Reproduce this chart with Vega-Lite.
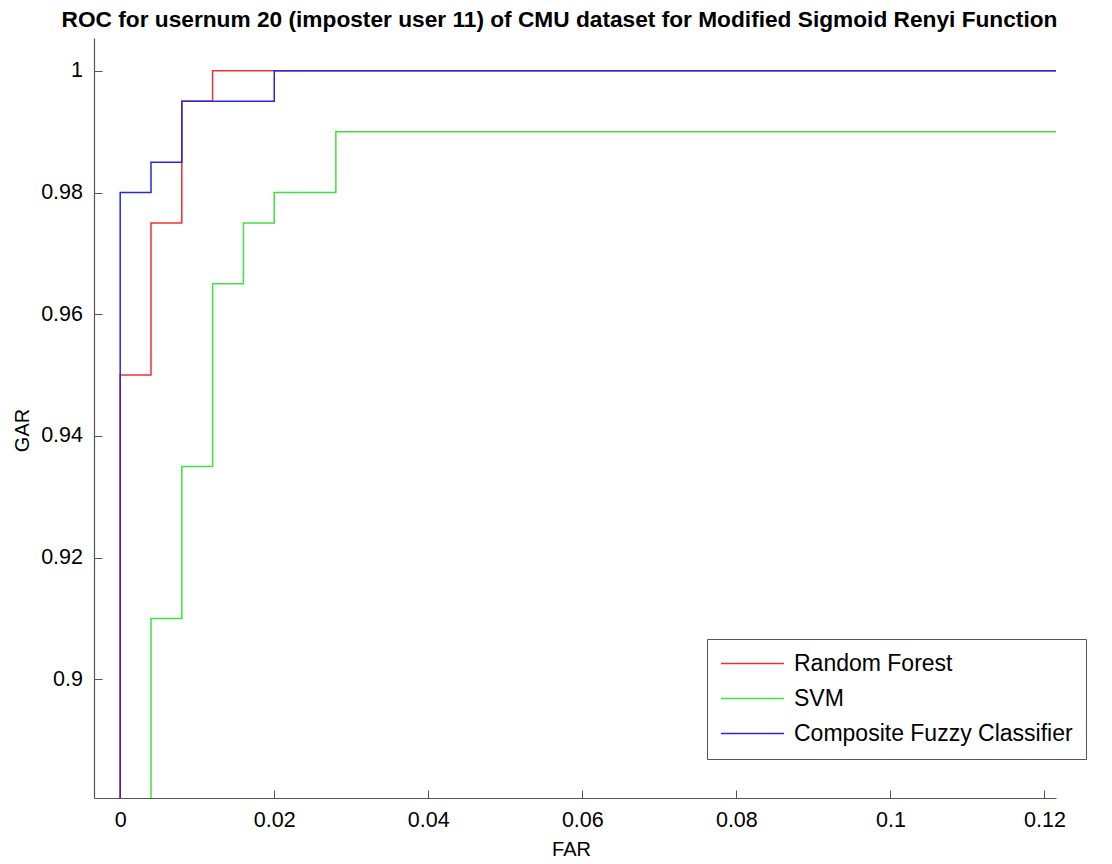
{
  "$schema": "https://vega.github.io/schema/vega-lite/v6.json",
  "autosize": "none",
  "padding": {"left": 94, "top": 38, "right": 56, "bottom": 66},
  "width": 962,
  "height": 760,
  "background": "white",
  "title": {
    "text": "ROC for usernum 20 (imposter user 11) of CMU dataset for Modified Sigmoid Renyi Function",
    "font": "Liberation Sans",
    "fontSize": 22.7,
    "fontWeight": "bold",
    "color": "black",
    "anchor": "middle",
    "offset": 6,
    "dx": -15.5
  },
  "data": {
    "values": [
      {"model": "Random Forest", "i": 0, "FAR": 0, "GAR": 0.8},
      {"model": "Random Forest", "i": 1, "FAR": 0, "GAR": 0.95},
      {"model": "Random Forest", "i": 2, "FAR": 0.004, "GAR": 0.95},
      {"model": "Random Forest", "i": 3, "FAR": 0.004, "GAR": 0.975},
      {"model": "Random Forest", "i": 4, "FAR": 0.008, "GAR": 0.975},
      {"model": "Random Forest", "i": 5, "FAR": 0.008, "GAR": 0.995},
      {"model": "Random Forest", "i": 6, "FAR": 0.012, "GAR": 0.995},
      {"model": "Random Forest", "i": 7, "FAR": 0.012, "GAR": 1.0},
      {"model": "Random Forest", "i": 8, "FAR": 0.1215, "GAR": 1.0},
      {"model": "SVM", "i": 0, "FAR": 0.004, "GAR": 0.8},
      {"model": "SVM", "i": 1, "FAR": 0.004, "GAR": 0.91},
      {"model": "SVM", "i": 2, "FAR": 0.008, "GAR": 0.91},
      {"model": "SVM", "i": 3, "FAR": 0.008, "GAR": 0.935},
      {"model": "SVM", "i": 4, "FAR": 0.012, "GAR": 0.935},
      {"model": "SVM", "i": 5, "FAR": 0.012, "GAR": 0.965},
      {"model": "SVM", "i": 6, "FAR": 0.016, "GAR": 0.965},
      {"model": "SVM", "i": 7, "FAR": 0.016, "GAR": 0.975},
      {"model": "SVM", "i": 8, "FAR": 0.02, "GAR": 0.975},
      {"model": "SVM", "i": 9, "FAR": 0.02, "GAR": 0.98},
      {"model": "SVM", "i": 10, "FAR": 0.028, "GAR": 0.98},
      {"model": "SVM", "i": 11, "FAR": 0.028, "GAR": 0.99},
      {"model": "SVM", "i": 12, "FAR": 0.1215, "GAR": 0.99},
      {"model": "Composite Fuzzy Classifier", "i": 0, "FAR": 0, "GAR": 0.8},
      {"model": "Composite Fuzzy Classifier", "i": 1, "FAR": 0, "GAR": 0.98},
      {"model": "Composite Fuzzy Classifier", "i": 2, "FAR": 0.004, "GAR": 0.98},
      {"model": "Composite Fuzzy Classifier", "i": 3, "FAR": 0.004, "GAR": 0.985},
      {"model": "Composite Fuzzy Classifier", "i": 4, "FAR": 0.008, "GAR": 0.985},
      {"model": "Composite Fuzzy Classifier", "i": 5, "FAR": 0.008, "GAR": 0.995},
      {"model": "Composite Fuzzy Classifier", "i": 6, "FAR": 0.02, "GAR": 0.995},
      {"model": "Composite Fuzzy Classifier", "i": 7, "FAR": 0.02, "GAR": 1.0},
      {"model": "Composite Fuzzy Classifier", "i": 8, "FAR": 0.1215, "GAR": 1.0}
    ]
  },
  "encoding": {
    "x": {
      "field": "FAR", "type": "quantitative",
      "scale": {"domain": [-0.0034, 0.1215], "nice": false, "zero": false},
      "axis": {
        "title": "FAR",
        "values": [0, 0.02, 0.04, 0.06, 0.08, 0.1, 0.12],
        "format": ".2~f",
        "titleX": 477, "titleY": 51, "titleBaseline": "middle", "titleAnchor": null
      }
    },
    "y": {
      "field": "GAR", "type": "quantitative",
      "scale": {"domain": [0.8805, 1.0054], "nice": false, "zero": false},
      "axis": {
        "title": "GAR",
        "values": [0.9, 0.92, 0.94, 0.96, 0.98, 1.0],
        "format": ".2~f",
        "titleX": -72, "titleY": 392, "titleBaseline": "middle", "titleAnchor": null
      }
    },
    "order": {"field": "i", "type": "quantitative"},
    "color": {
      "field": "model", "type": "nominal",
      "scale": {
        "domain": ["Random Forest", "SVM", "Composite Fuzzy Classifier"],
        "range": ["#f03030", "#40e040", "#2828d8"]
      },
      "legend": {
        "title": null,
        "orient": "none",
        "legendX": 613,
        "legendY": 601,
        "symbolType": "M-3,0H3",
        "symbolSize": 441,
        "symbolStrokeWidth": 1.5,
        "labelFont": "Liberation Sans",
        "labelFontSize": 23,
        "labelColor": "black",
        "labelOffset": 30,
        "symbolOffset": 21,
        "labelLimit": 400,
        "rowPadding": 11,
        "padding": 13,
        "strokeColor": "#555",
        "fillColor": "white"
      }
    }
  },
  "layer": [
    {"transform": [{"filter": "datum.model === 'Random Forest'"}], "mark": {"type": "line", "clip": true, "strokeWidth": 1.5, "interpolate": "linear"}},
    {"transform": [{"filter": "datum.model === 'SVM'"}], "mark": {"type": "line", "clip": true, "strokeWidth": 1.5, "interpolate": "linear"}},
    {"transform": [{"filter": "datum.model === 'Composite Fuzzy Classifier'"}], "mark": {"type": "line", "clip": true, "strokeWidth": 1.5, "interpolate": "linear"}}
  ],
  "config": {
    "view": {"stroke": null},
    "axis": {
      "grid": false,
      "domainColor": "#555",
      "domainWidth": 1.2,
      "tickColor": "#555",
      "tickSize": -8,
      "tickWidth": 1,
      "labelFont": "Liberation Sans",
      "labelFontSize": 21.5,
      "labelColor": "black",
      "titleFont": "Liberation Sans",
      "titleFontSize": 20,
      "titleFontWeight": "normal",
      "titleColor": "black"
    },
    "axisX": {"labelPadding": 19},
    "axisY": {"labelPadding": 19.5}
  }
}
